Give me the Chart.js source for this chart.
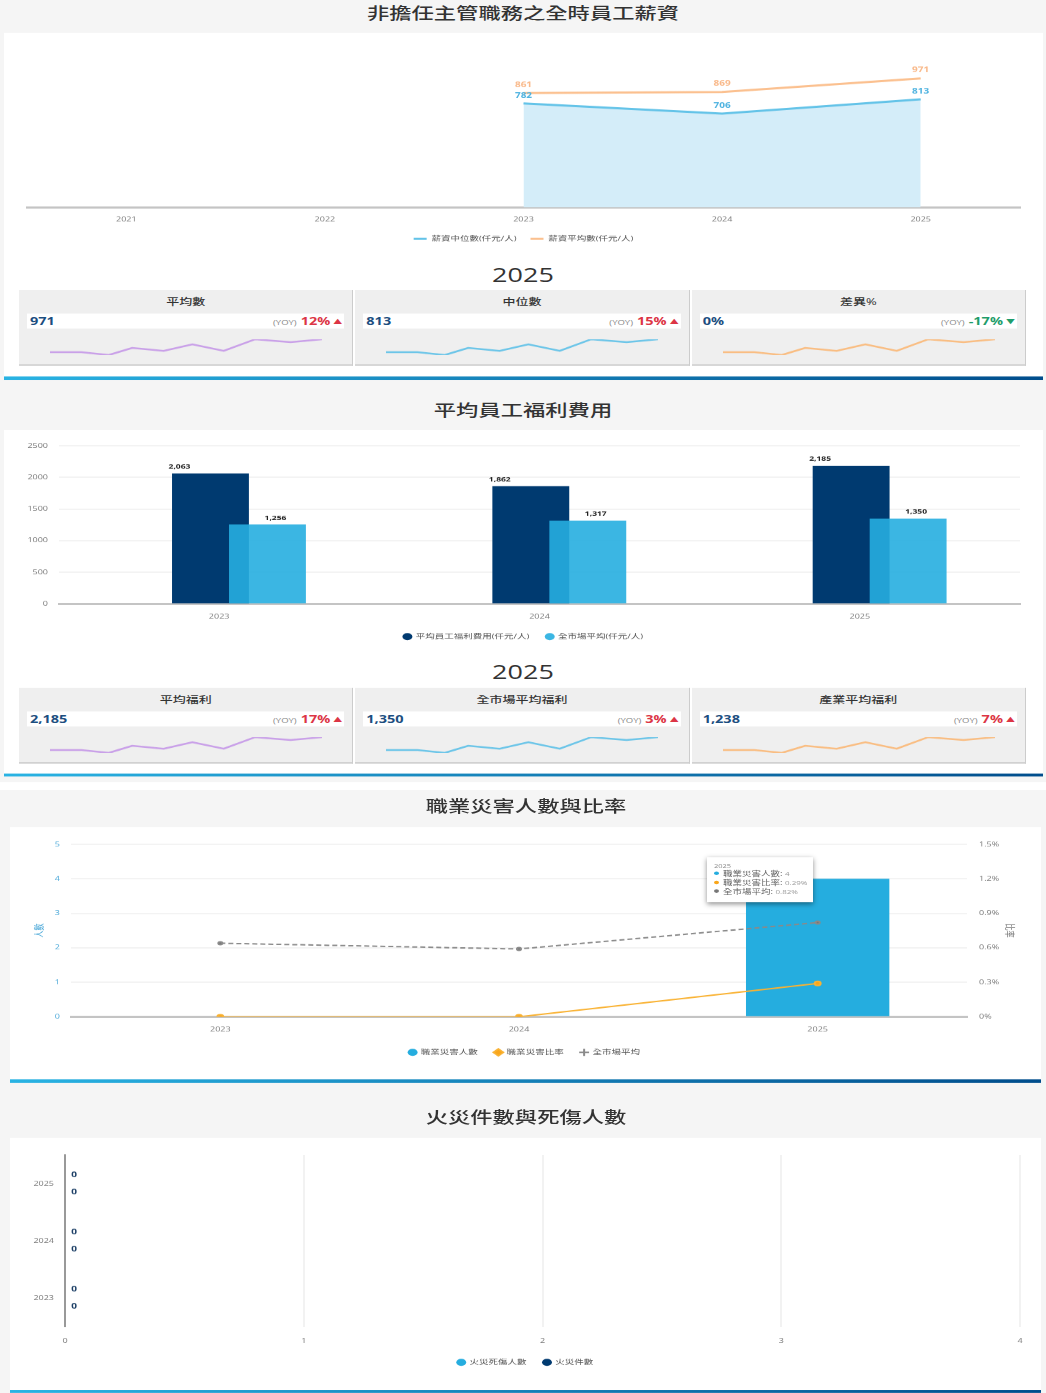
<!DOCTYPE html>
<html lang="zh-Hant">
<head>
<meta charset="utf-8">
<title>員工薪資與福利</title>
<script src="https://cdn.jsdelivr.net/npm/chart.js@4/dist/chart.umd.min.js"></script>
<style>
    html, body { margin: 0; padding: 0; width: 1046px; height: 1393px; overflow: hidden; background: #fff; }
    /* the page is laid out tall and squeezed vertically to the window height */
    #page {
        position: relative; width: 1046px; height: 1950px; background: #f5f5f5;
        transform: scale(1, 0.7143); transform-origin: 0 0;
        font-family: "Open Sans", "Noto Sans CJK TC", sans-serif; color: #333;
    }
    .panel, .rule, .gap, h2, .year, canvas.main, .cards, #tip { position: absolute; }
    .panel, .gap { background: #fff; }
    .rule { height: 5px; background: linear-gradient(90deg, #29b3e3, #004d8c); }
    h2 { left: 0; width: 1046px; margin: 0; text-align: center; font-size: 22.3px; line-height: 30px; font-weight: 500; }
    .year { left: 0; width: 1046px; text-align: center; font-size: 27px; line-height: 34px; }
    .cards { left: 19px; width: 1007px; height: 106px; display: flex; gap: 2px; }
    .card { position: relative; flex: 1; background: #efefef; border-bottom: 2px solid #ccc; border-right: 1px solid #ccc; box-sizing: border-box; }
    .card .name { text-align: center; font-size: 13px; font-weight: 500; line-height: 20px; margin-top: 6px; }
    .card .strip { position: absolute; left: 8px; right: 8px; top: 33px; height: 21px; background: #fff; line-height: 21px; }
    .card .value { position: absolute; left: 3px; font-size: 14.5px; font-weight: 700; color: #1c4e80; }
    .card .delta { position: absolute; right: 2px; font-size: 14.5px; font-weight: 700; white-space: nowrap; }
    .card .delta small { font-size: 9.5px; font-weight: 400; color: #888; margin-right: 4px; }
    .card .delta i { font-size: 9px; font-style: normal; margin-left: 3px; vertical-align: 1px; }
    .up { color: #dc3545; }
    .down { color: #1f9d6b; }
    .card canvas { position: absolute; left: 29px; top: 67px; }
    #tip {
        left: 707px; top: 1200px; width: 106px; height: 63px; box-sizing: border-box; padding: 7px 0 0 7px;
        background: #fff; box-shadow: 0 2px 6px rgba(0,0,0,.45); font-size: 9.5px; line-height: 12.5px; color: #666; white-space: nowrap;
    }
    #tip .head { font-size: 7.5px; line-height: 10px; color: #888; }
    #tip b { display: inline-block; width: 5px; height: 5px; border-radius: 50%; margin-right: 4px; vertical-align: 1px; }
    #tip span { font-size: 8px; color: #999; }
</style>
</head>
<body>
<div id="page">
    <h2 style="top:3px">非擔任主管職務之全時員工薪資</h2>
    <div class="panel" style="left:4px;top:46px;width:1039px;height:483px"></div>
    <canvas class="main" id="salaryChart" width="1039" height="303" style="left:4px;top:46px"></canvas>
    <div class="year" style="top:368px">2025</div>
    <div class="cards" id="salaryCards" style="top:406px"></div>
    <div class="rule" style="left:4px;top:527px;width:1039px"></div>

    <h2 style="top:559px">平均員工福利費用</h2>
    <div class="panel" style="left:4px;top:602px;width:1039px;height:482px"></div>
    <canvas class="main" id="welfareChart" width="1039" height="304" style="left:4px;top:602px"></canvas>
    <div class="year" style="top:924px">2025</div>
    <div class="cards" id="welfareCards" style="top:963px"></div>
    <div class="rule" style="left:4px;top:1083px;width:1039px;height:4px"></div>

    <div class="gap" style="left:0;top:1095px;width:1046px;height:11px"></div>
    <h2 style="top:1114px;left:3px">職業災害人數與比率</h2>
    <div class="panel" style="left:10px;top:1158px;width:1031px;height:354px"></div>
    <canvas class="main" id="injuryChart" width="1031" height="330" style="left:10px;top:1158px"></canvas>
    <div id="tip"></div>
    <div class="rule" style="left:10px;top:1511px;width:1031px"></div>

    <h2 style="top:1549px;left:3px">火災件數與死傷人數</h2>
    <div class="panel" style="left:10px;top:1593px;width:1031px;height:353px"></div>
    <canvas class="main" id="fireChart" width="1031" height="329" style="left:10px;top:1593px"></canvas>
    <div class="rule" style="left:10px;top:1946px;width:1031px;height:4px"></div>
</div>

<script>
// Salary chart data
const salaryYears = ['2021', '2022', '2023', '2024', '2025'];
const salaryMedian = [null, null, 782, 706, 813];
const salaryMean = [null, null, 861, 869, 971];

// KPI card data
const salaryCardNames = ['平均數', '中位數', '差異%'];
const salaryCardValues = ['971', '813', '0%'];
const salaryCardYoy = ['12%', '15%', '-17%'];
const welfareCardNames = ['平均福利', '全市場平均福利', '產業平均福利'];
const welfareCardValues = ['2,185', '1,350', '1,238'];
const welfareCardYoy = ['17%', '3%', '7%'];
const sparkPeriods = [0, 47, 88, 123, 170, 213, 260, 307, 360, 407];
const sparkTrend = [3.1, 3.1, 2, 4.7, 3.6, 6.1, 3.6, 8, 6.9, 8];
const sparkColors = ['#c9a0e8', '#6cc5e8', '#f9bd82'];

// Welfare chart data
const welfareYears = ['2023', '2024', '2025'];
const welfareAverage = [2063, 1862, 2185];
const welfareMarket = [1256, 1317, 1350];

// Occupational injury chart data
const injuryYears = ['2023', '2024', '2025'];
const injuryCounts = [0, 0, 4];
const injuryRates = [0, 0, 0.29];
const injuryMarketRates = [0.64, 0.59, 0.82];

// Fire chart data
const fireYears = ['2025', '2024', '2023'];
const fireCasualties = [0, 0, 0];
const fireCases = [0, 0, 0];

Chart.defaults.font.family = '"Open Sans", "Noto Sans CJK TC", sans-serif';
Chart.defaults.font.size = 9;
Chart.defaults.color = '#777';
Chart.defaults.animation = false;
Chart.defaults.plugins.tooltip.enabled = false;

const axisLine = { color: '#c4c4c4', width: 3 };
const legendLabels = {
    font: { size: 9.5 }, color: '#555', padding: 17, usePointStyle: true, boxWidth: 7, boxHeight: 7,
    sort: (a, b) => a.datasetIndex - b.datasetIndex
};

// Draws the value above each mark, style comes from options.plugins.valueLabels
const valueLabels = {
    id: 'valueLabels',
    afterDatasetsDraw(chart, args, opts) {
        const ctx = chart.ctx;
        ctx.save();
        ctx.textAlign = 'center';
        ctx.textBaseline = 'middle';
        chart.data.datasets.forEach((ds, i) => {
            const style = opts.styles[i];
            if (!style) return;
            ctx.font = 'bold ' + style.size + 'px ' + Chart.defaults.font.family;
            ctx.fillStyle = style.color;
            chart.getDatasetMeta(i).data.forEach((el, j) => {
                if (ds.data[j] === null) return;
                ctx.fillText(ds.data[j].toLocaleString('en-US'), el.x + style.dx, el.y + style.dy);
            });
        });
        ctx.restore();
    }
};

// The reference overlaps its bar pairs and draws them right of the category label
const shiftBars = {
    id: 'shiftBars',
    afterDatasetsUpdate(chart, args, opts) {
        chart.data.datasets.forEach((ds, i) => {
            chart.getDatasetMeta(i).data.forEach(el => { el.x += opts.offsets[i]; });
        });
    }
};

function buildCards(containerId, names, values, yoy) {
    const container = document.getElementById(containerId);
    names.forEach((name, i) => {
        const falling = yoy[i].startsWith('-');
        const card = document.createElement('div');
        card.className = 'card';
        card.innerHTML = `
            <div class="name">${name}</div>
            <div class="strip">
                <span class="value">${values[i]}</span>
                <span class="delta ${falling ? 'down' : 'up'}"><small>(YOY)</small>${yoy[i]}<i>${falling ? '▼' : '▲'}</i></span>
            </div>
            <canvas width="276" height="26"></canvas>
        `;
        container.appendChild(card);
        new Chart(card.querySelector('canvas'), {
            type: 'line',
            data: {
                datasets: [{
                    data: sparkTrend.map((v, k) => ({ x: sparkPeriods[k], y: v })),
                    borderColor: sparkColors[i], borderWidth: 2.5, pointRadius: 0, tension: 0
                }]
            },
            options: {
                responsive: false,
                layout: { padding: 2 },
                plugins: { legend: { display: false } },
                scales: {
                    x: { type: 'linear', display: false, min: 0, max: 407 },
                    y: { display: false, min: 2, max: 8 }
                }
            }
        });
    });
}

// Salary line chart
new Chart(document.getElementById('salaryChart'), {
    type: 'line',
    data: {
        labels: salaryYears,
        datasets: [
            { label: '薪資中位數(仟元/人)', data: salaryMedian, borderColor: '#63c3e8', backgroundColor: '#d4edf9', borderWidth: 3, fill: 'origin', pointRadius: 0, tension: 0, pointStyle: 'line' },
            { label: '薪資平均數(仟元/人)', data: salaryMean, borderColor: '#fbc08f', backgroundColor: '#fbc08f', borderWidth: 3, pointRadius: 0, tension: 0, pointStyle: 'line' }
        ]
    },
    options: {
        responsive: false,
        layout: { padding: { left: 23, right: 23, top: 21 } },
        plugins: {
            legend: { position: 'bottom', labels: { ...legendLabels, padding: 14, boxWidth: 13, pointStyleWidth: 13 } },
            valueLabels: { styles: [
                { size: 10, color: '#4fb3e0', dx: 0, dy: -11 },
                { size: 10, color: '#f9b98a', dx: 0, dy: -11 }
            ] }
        },
        scales: {
            x: {
                offset: true,
                grid: { display: false },
                border: axisLine,
                ticks: { padding: 4 },
                afterFit(scale) { scale.height = 25; }
            },
            y: { display: false, min: 0, max: 1200 }
        }
    },
    plugins: [valueLabels]
});

// Welfare bar chart, the lower order is painted on top
new Chart(document.getElementById('welfareChart'), {
    type: 'bar',
    data: {
        labels: welfareYears,
        datasets: [
            { label: '平均員工福利費用(仟元/人)', data: welfareAverage, backgroundColor: '#003a70', grouped: false, order: 2, categoryPercentage: 0.3, barPercentage: 0.8, pointStyle: 'circle' },
            { label: '全市場平均(仟元/人)', data: welfareMarket, backgroundColor: 'rgba(38,174,224,0.9)', grouped: false, order: 1, categoryPercentage: 0.3, barPercentage: 0.8, pointStyle: 'circle' }
        ]
    },
    options: {
        responsive: false,
        layout: { padding: { left: 23, right: 23, top: 22 } },
        plugins: {
            legend: { position: 'bottom', labels: legendLabels },
            shiftBars: { offsets: [-8.7, 48.3] },
            valueLabels: { styles: [
                { size: 8.5, color: '#222', dx: -31, dy: -9 },
                { size: 8.5, color: '#222', dx: 8, dy: -9 }
            ] }
        },
        scales: {
            x: {
                grid: { display: false },
                border: axisLine,
                ticks: { padding: 5 },
                afterFit(scale) { scale.height = 24; }
            },
            y: {
                min: 0, max: 2500,
                grid: { color: '#f3f3f3', lineWidth: 2, drawTicks: false },
                border: { display: false },
                ticks: { stepSize: 500, padding: 11, callback: v => String(v) },
                afterFit(scale) { scale.width = 32; }
            }
        }
    },
    plugins: [valueLabels, shiftBars]
});

// Occupational injury combo chart
const injuryLegendStyles = ['circle', 'rectRot', 'cross'];
new Chart(document.getElementById('injuryChart'), {
    type: 'bar',
    data: {
        labels: injuryYears,
        datasets: [
            { type: 'bar', label: '職業災害人數', data: injuryCounts, backgroundColor: '#25addf', borderColor: '#25addf', yAxisID: 'y', order: 3, barPercentage: 0.6, categoryPercentage: 0.8 },
            { type: 'line', label: '職業災害比率', data: injuryRates, borderColor: '#f9b233', backgroundColor: '#f9a61a', borderWidth: 2, pointRadius: 3, yAxisID: 'y1', order: 1, tension: 0 },
            { type: 'line', label: '全市場平均', data: injuryMarketRates, borderColor: '#8a8a8a', backgroundColor: '#777', borderWidth: 2, borderDash: [5, 3], pointRadius: 2, yAxisID: 'y1', order: 2, tension: 0 }
        ]
    },
    options: {
        responsive: false,
        layout: { padding: { left: 20, right: 22, top: 24 } },
        plugins: {
            legend: {
                position: 'bottom',
                labels: {
                    ...legendLabels,
                    generateLabels(chart) {
                        const items = Chart.defaults.plugins.legend.labels.generateLabels(chart);
                        items.forEach(item => {
                            item.pointStyle = injuryLegendStyles[item.datasetIndex];
                            item.lineDash = [];
                        });
                        return items;
                    }
                }
            }
        },
        scales: {
            x: {
                grid: { display: false },
                border: axisLine,
                ticks: { padding: 5 },
                afterFit(scale) { scale.height = 28; }
            },
            y: {
                position: 'left', min: 0, max: 5,
                title: { display: true, text: '人數', color: '#4aa8d8', font: { size: 10 } },
                grid: { color: '#f3f3f3', lineWidth: 2, drawTicks: false },
                border: { display: false },
                ticks: { stepSize: 1, color: '#4aa8d8', padding: 11 },
                afterFit(scale) { scale.width = 41; }
            },
            y1: {
                position: 'right', min: 0, max: 1.5,
                title: { display: true, text: '比率', color: '#777', font: { size: 10 } },
                grid: { display: false },
                border: { display: false },
                ticks: { stepSize: 0.3, padding: 4, callback: v => +v.toFixed(1) + '%' },
                afterFit(scale) { scale.width = 52; }
            }
        }
    }
});

// Tooltip shown for the last year in the reference
const lastInjury = injuryYears.length - 1;
document.getElementById('tip').innerHTML = `
    <div class="head">${injuryYears[lastInjury]}</div>
    <div><b style="background:#25addf"></b>職業災害人數: <span>${injuryCounts[lastInjury]}</span></div>
    <div><b style="background:#f9a61a"></b>職業災害比率: <span>${injuryRates[lastInjury]}%</span></div>
    <div><b style="background:#777"></b>全市場平均: <span>${injuryMarketRates[lastInjury]}%</span></div>
`;

// Fire horizontal bar chart
new Chart(document.getElementById('fireChart'), {
    type: 'bar',
    data: {
        labels: fireYears,
        datasets: [
            { label: '火災死傷人數', data: fireCasualties, backgroundColor: '#25addf', categoryPercentage: 0.6, pointStyle: 'circle' },
            { label: '火災件數', data: fireCases, backgroundColor: '#003a70', categoryPercentage: 0.6, pointStyle: 'circle' }
        ]
    },
    options: {
        indexAxis: 'y',
        responsive: false,
        layout: { padding: { left: 21, right: 21, top: 24 } },
        plugins: {
            legend: { position: 'bottom', labels: legendLabels },
            valueLabels: { styles: [
                { size: 10, color: '#1c3f66', dx: 9, dy: 0 },
                { size: 10, color: '#1c3f66', dx: 9, dy: 0 }
            ] }
        },
        scales: {
            x: {
                min: 0, max: 4,
                grid: { color: '#f2f2f2', lineWidth: 2, drawTicks: false },
                border: { display: false },
                ticks: { stepSize: 1, padding: 15 },
                afterFit(scale) { scale.height = 28; }
            },
            y: {
                grid: { display: false },
                border: { color: '#999', width: 2 },
                ticks: { padding: 3 },
                afterFit(scale) { scale.width = 34; }
            }
        }
    },
    plugins: [valueLabels]
});

buildCards('salaryCards', salaryCardNames, salaryCardValues, salaryCardYoy);
buildCards('welfareCards', welfareCardNames, welfareCardValues, welfareCardYoy);
</script>
</body>
</html>
